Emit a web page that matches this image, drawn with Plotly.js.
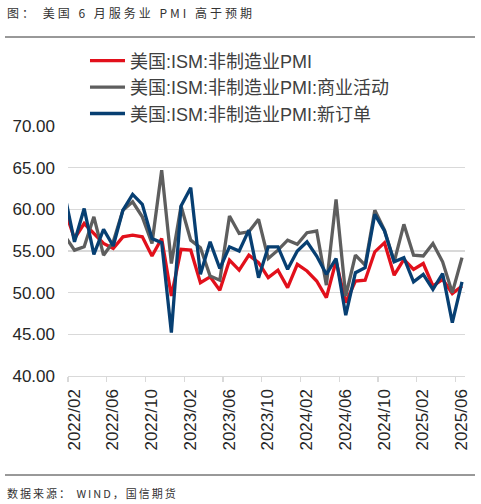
<!DOCTYPE html>
<html>
<head>
<meta charset="utf-8">
<script src="https://cdn.plot.ly/plotly-3.0.1.min.js"></script>
<style>
html,body{margin:0;padding:0;background:#fff;}
#chart{width:481px;height:504px;}
</style>
</head>
<body>
<div id="chart"></div>
<script>
// ---- data ----
var months = [
 "2022/01","2022/02","2022/03","2022/04","2022/05","2022/06","2022/07","2022/08","2022/09","2022/10","2022/11","2022/12",
 "2023/01","2023/02","2023/03","2023/04","2023/05","2023/06","2023/07","2023/08","2023/09","2023/10","2023/11","2023/12",
 "2024/01","2024/02","2024/03","2024/04","2024/05","2024/06","2024/07","2024/08","2024/09","2024/10","2024/11","2024/12",
 "2025/01","2025/02","2025/03","2025/04","2025/05","2025/06"
];
var pmi = [
 59.9,56.5,58.3,57.1,55.9,55.3,56.7,56.9,56.7,54.4,56.5,49.6,
 55.2,55.1,51.2,51.9,50.3,53.9,52.7,54.5,53.6,51.8,52.7,50.6,
 53.4,52.6,51.4,49.4,53.8,48.8,51.4,51.5,54.9,56.0,52.1,54.0,
 52.8,53.5,50.8,51.6,49.9,50.8
];
var businessActivity = [
 56.8,55.1,55.5,59.1,54.5,56.1,59.9,60.9,59.1,55.9,64.7,53.5,
 60.4,56.3,55.4,52.0,51.5,59.2,57.1,57.3,58.8,54.1,55.1,56.3,
 55.8,57.2,57.4,50.9,61.2,49.6,54.5,53.3,59.9,57.5,53.7,58.2,
 54.5,54.4,55.9,53.7,50.0,54.2
];
var newOrders = [
 61.7,56.1,60.1,54.6,57.6,55.6,59.9,61.8,60.6,56.5,56.0,45.2,
 60.4,62.6,52.2,56.1,52.9,55.5,55.0,57.5,51.8,55.5,55.5,52.8,
 55.0,56.1,54.4,52.2,54.1,47.3,52.4,53.0,59.4,57.4,53.7,54.2,
 51.3,52.2,50.4,52.3,46.4,51.3
];
var seriesNames = ["美国:ISM:非制造业PMI","美国:ISM:非制造业PMI:商业活动","美国:ISM:非制造业PMI:新订单"];
var tickLabels = ["2022/02","2022/06","2022/10","2023/02","2023/06","2023/10","2024/02","2024/06","2024/10","2025/02","2025/06"];
var yTicks = [40,45,50,55,60,65,70];
var chartTitle = "图： 美国 6 月服务业 PMI 高于预期";
var sourceText = "数据来源： WIND，国信期货";

// ---- build ----
var idx = months.map(function(_, i){ return i; });
var colors = ["#E2101B","#5E5E5E","#073F72"];
var seriesVals = [pmi, businessActivity, newOrders];
var traces = seriesVals.map(function(v, k){
  return {
    type: "scatter", mode: "lines", x: idx, y: v, name: seriesNames[k],
    legendgroup: "g" + k,
    line: {color: colors[k], width: 3.3, shape: "linear"},
    hoverinfo: "skip"
  };
});
var tickPos = tickLabels.map(function(l){ return months.indexOf(l) - 0.67; });

var layout = {
  width: 481, height: 504,
  margin: {l: 68, r: 16, t: 126, b: 128},
  paper_bgcolor: "#fff", plot_bgcolor: "#fff",
  font: {family: "Liberation Sans, Arial, Noto Sans CJK SC, sans-serif", color: "#262626"},
  showlegend: true,
  legend: {
    x: 0.0554, y: 1.334, xanchor: "left", yanchor: "top",
    font: {size: 18, color: "#404040", family: "Liberation Sans, Arial, Noto Sans CJK SC, sans-serif"},
    traceorder: "grouped", tracegroupgap: 0,
    bgcolor: "rgba(0,0,0,0)"
  },
  xaxis: {
    type: "linear", range: [0.33, 41.31],
    tickmode: "array", tickvals: tickPos, ticktext: tickLabels,
    tickangle: -90, tickfont: {size: 17, color: "#262626"},
    ticks: "outside", ticklen: 5, tickcolor: "#d9d9d9", tickwidth: 1.3,
    ticklabelshift: 6,
    showline: true, linecolor: "#d9d9d9", linewidth: 1.3,
    showgrid: false, zeroline: false, fixedrange: true
  },
  yaxis: {
    range: [40, 70], tickmode: "array", tickvals: yTicks,
    tickformat: ".2f", tickfont: {size: 17, color: "#262626"},
    showgrid: true, gridcolor: "#d9d9d9", gridwidth: 1.3,
    zeroline: false, showline: false, ticks: "", ticklabelstandoff: 12,
    fixedrange: true
  },
  shapes: [
    {type: "line", xref: "paper", yref: "paper", x0: -63/397, x1: 407/397,
     y0: (504-128-37)/250, y1: (504-128-37)/250, line: {color: "#333", width: 1}},
    {type: "line", xref: "paper", yref: "paper", x0: -63/397, x1: 407/397,
     y0: (504-128-475)/250, y1: (504-128-475)/250, line: {color: "#333", width: 1}}
  ],
  annotations: [
    {xref: "paper", yref: "paper", x: -63/397, y: (376-12.5)/250, xanchor: "left", yanchor: "middle", align: "left",
     text: chartTitle, showarrow: false, font: {size: 12, color: "#333", family: "Noto Sans CJK SC"}},
    {xref: "paper", yref: "paper", x: -63/397, y: (376-493)/250, xanchor: "left", yanchor: "middle", align: "left",
     text: sourceText, showarrow: false, font: {size: 11, color: "#333", family: "Noto Sans CJK SC"}}
  ]
};
Plotly.newPlot("chart", traces, layout, {displayModeBar: false, staticPlot: true}).then(function(){
  var ann = document.querySelectorAll(".annotation-text");
  if (ann[0]) ann[0].style.letterSpacing = "3px";
  if (ann[1]) ann[1].style.letterSpacing = "2px";
  document.querySelectorAll(".legend .legendlines path").forEach(function(p){
    p.setAttribute("d", "M-8,0h43");
  });
});
</script>
</body>
</html>
